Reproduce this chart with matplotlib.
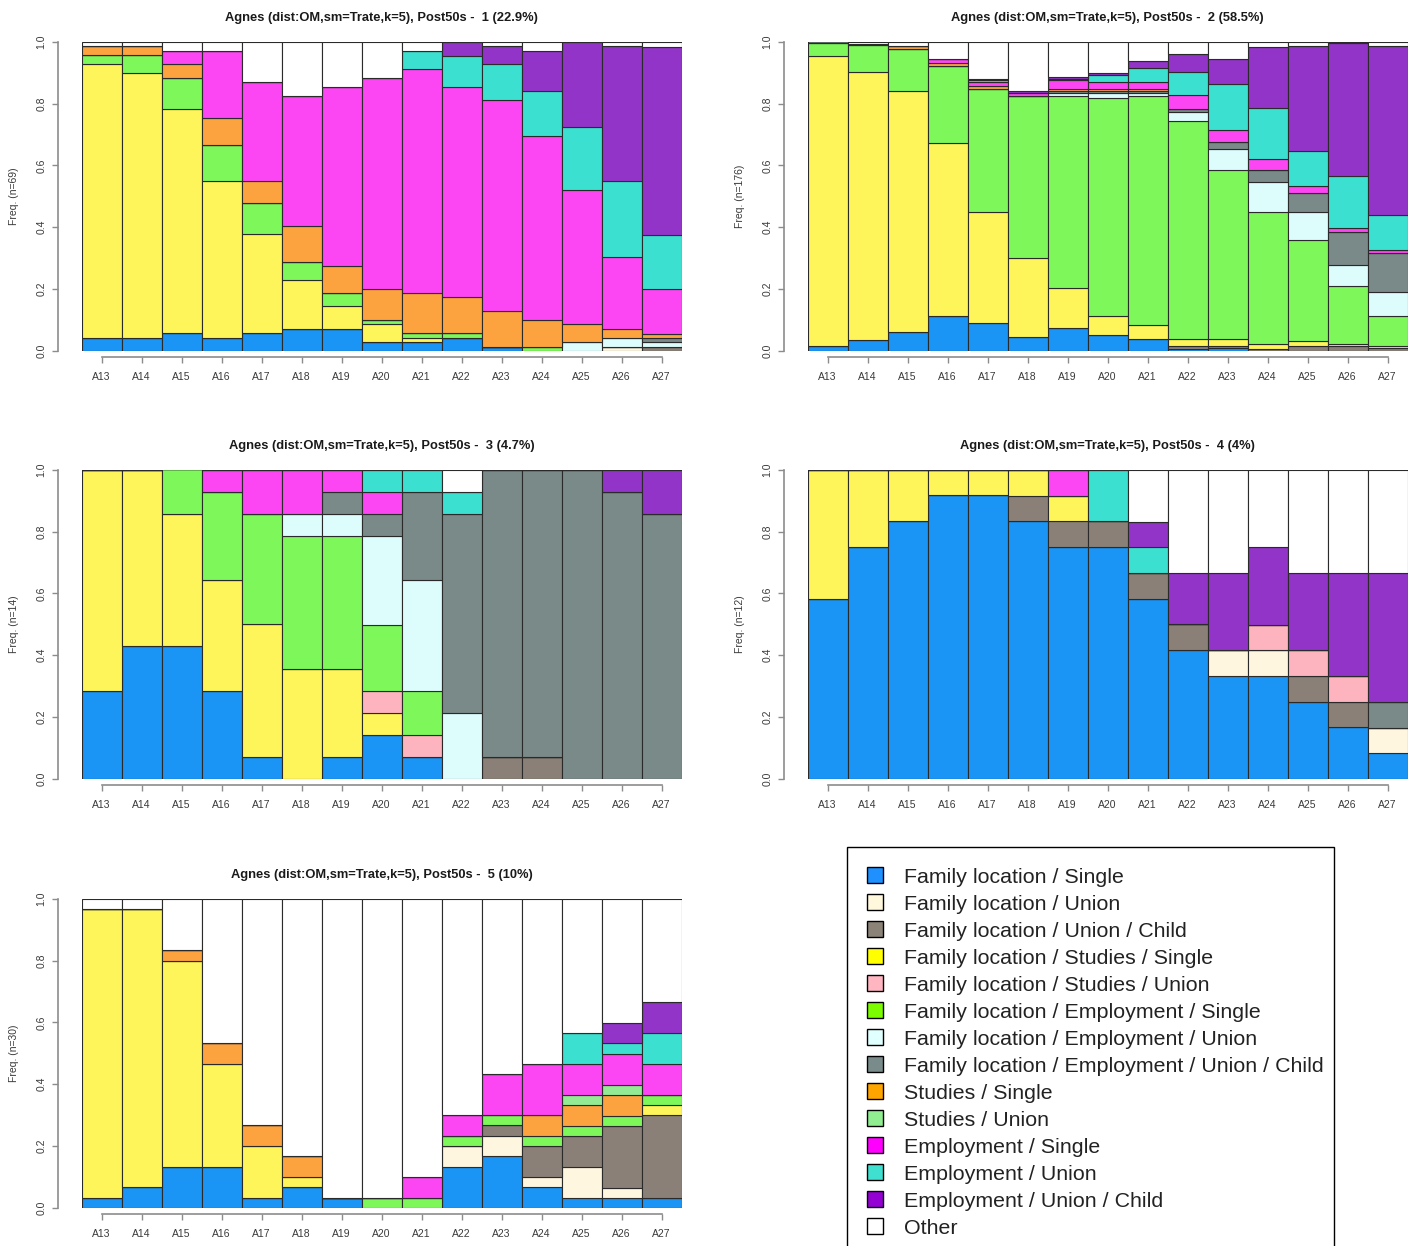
import matplotlib
matplotlib.use("Agg")
import matplotlib.pyplot as plt
from matplotlib.patches import Patch, Rectangle

ages = ["A13", "A14", "A15", "A16", "A17", "A18", "A19", "A20",
        "A21", "A22", "A23", "A24", "A25", "A26", "A27"]

states = ["FS", "FU", "FUC", "FSS", "FSU", "FES", "FEU", "FEUC",
          "SS", "SU", "ES", "EU", "EUC", "OT"]
state_labels = [
    "Family location / Single",
    "Family location / Union",
    "Family location / Union / Child",
    "Family location / Studies / Single",
    "Family location / Studies / Union",
    "Family location / Employment / Single",
    "Family location / Employment / Union",
    "Family location / Employment / Union / Child",
    "Studies / Single",
    "Studies / Union",
    "Employment / Single",
    "Employment / Union",
    "Employment / Union / Child",
    "Other",
]
# colours as they appear in the bars (slightly washed out) and in the legend
bar_colors = ["#1a94f5", "#fff6e0", "#8a8078", "#fdf55a", "#fdb4be", "#7ef75a",
              "#ddfdfd", "#7a8a88", "#fca23f", "#93ec93", "#fd46f3", "#3be0d0",
              "#9234c8", "#ffffff"]
legend_colors = ["#1E90FF", "#FFF8DC", "#8B8378", "#FFFF00", "#FFB6C1", "#7CFC00",
                 "#E0FFFF", "#7A8B8B", "#FFA500", "#90EE90", "#FF00FF", "#40E0D0",
                 "#9400D3", "#FFFFFF"]

titles = [
    "Agnes (dist:OM,sm=Trate,k=5), Post50s -  1 (22.9%)",
    "Agnes (dist:OM,sm=Trate,k=5), Post50s -  2 (58.5%)",
    "Agnes (dist:OM,sm=Trate,k=5), Post50s -  3 (4.7%)",
    "Agnes (dist:OM,sm=Trate,k=5), Post50s -  4 (4%)",
    "Agnes (dist:OM,sm=Trate,k=5), Post50s -  5 (10%)",
]
sizes = [69, 176, 14, 12, 30]

# state distributions per cluster (only states that appear)
cluster1 = {
    "FS":   [.043, .043, .058, .043, .058, .072, .072, .029, .029, .043, .014, 0, 0, 0, 0],
    "FU":   [0, 0, 0, 0, 0, 0, 0, 0, 0, 0, 0, 0, 0, .014, 0],
    "FUC":  [0, 0, 0, 0, 0, 0, 0, 0, 0, 0, 0, 0, 0, 0, .014],
    "FSS":  [.884, .855, .725, .507, .319, .159, .072, .058, .014, 0, 0, 0, 0, 0, 0],
    "FES":  [.029, .058, .101, .116, .101, .058, .043, .014, .014, .014, 0, .014, 0, 0, 0],
    "FEU":  [0, 0, 0, 0, 0, 0, 0, 0, 0, 0, 0, 0, .029, .029, .014],
    "FEUC": [0, 0, 0, 0, 0, 0, 0, 0, 0, 0, 0, 0, 0, 0, .014],
    "SS":   [.029, .029, .043, .087, .072, .116, .087, .101, .130, .116, .116, .087, .058, .029, .014],
    "ES":   [0, 0, .043, .217, .319, .420, .580, .681, .725, .681, .681, .594, .435, .232, .145],
    "EU":   [0, 0, 0, 0, 0, 0, 0, 0, .058, .101, .116, .145, .203, .246, .174],
    "EUC":  [0, 0, 0, 0, 0, 0, 0, 0, 0, .043, .058, .130, .275, .435, .609],
    "OT":   [.014, .014, .029, .029, .130, .174, .145, .116, .029, 0, .014, .029, 0, .014, .014],
}
cluster2 = {
    "FS":   [.017, .034, .062, .114, .091, .045, .074, .051, .040, .006, .011, 0, 0, 0, 0],
    "FUC":  [0, 0, 0, 0, 0, 0, 0, 0, 0, .011, .006, .006, .017, .017, .011],
    "FSS":  [.938, .869, .778, .557, .358, .256, .131, .063, .045, .023, .023, .017, .014, .006, .006],
    "FES":  [.040, .085, .136, .250, .398, .523, .619, .704, .739, .704, .545, .426, .328, .187, .096],
    "FEU":  [0, 0, 0, 0, 0, 0, .011, .017, .011, .028, .068, .097, .089, .068, .079],
    "FEUC": [.006, .006, 0, 0, 0, 0, .006, .006, .006, .011, .023, .040, .063, .108, .124],
    "SS":   [0, 0, .011, .011, .011, 0, .006, .006, .006, 0, 0, 0, 0, 0, 0],
    "ES":   [0, 0, 0, .011, .011, .011, .028, .023, .023, .045, .040, .034, .023, .011, .011],
    "EU":   [0, 0, 0, 0, .006, 0, .006, .023, .045, .074, .148, .165, .114, .170, .114],
    "EUC":  [0, 0, 0, 0, .006, .006, .006, .006, .023, .057, .080, .199, .339, .428, .545],
    "OT":   [0, .006, .011, .057, .119, .159, .113, .101, .062, .041, .056, .016, .013, .005, .014],
}
cluster3 = {
    "FS":   [.286, .429, .429, .286, .071, 0, .071, .143, .071, 0, 0, 0, 0, 0, 0],
    "FUC":  [0, 0, 0, 0, 0, 0, 0, 0, 0, 0, .071, .071, 0, 0, 0],
    "FSS":  [.714, .571, .429, .357, .429, .357, .286, .071, 0, 0, 0, 0, 0, 0, 0],
    "FSU":  [0, 0, 0, 0, 0, 0, 0, .071, .071, 0, 0, 0, 0, 0, 0],
    "FES":  [0, 0, .143, .286, .357, .429, .429, .214, .143, 0, 0, 0, 0, 0, 0],
    "FEU":  [0, 0, 0, 0, 0, .071, .071, .286, .357, .214, 0, 0, 0, 0, 0],
    "FEUC": [0, 0, 0, 0, 0, 0, .071, .071, .286, .643, .929, .929, 1.0, .929, .857],
    "ES":   [0, 0, 0, .071, .143, .143, .071, .071, 0, 0, 0, 0, 0, 0, 0],
    "EU":   [0, 0, 0, 0, 0, 0, 0, .071, .071, .071, 0, 0, 0, 0, 0],
    "EUC":  [0, 0, 0, 0, 0, 0, 0, 0, 0, 0, 0, 0, 0, .071, .143],
    "OT":   [0, 0, 0, 0, 0, 0, 0, 0, 0, .071, 0, 0, 0, 0, 0],
}
cluster4 = {
    "FS":   [.583, .750, .833, .917, .917, .833, .750, .750, .583, .417, .333, .333, .250, .167, .083],
    "FU":   [0, 0, 0, 0, 0, 0, 0, 0, 0, 0, .083, .083, 0, 0, .083],
    "FUC":  [0, 0, 0, 0, 0, .083, .083, .083, .083, .083, 0, 0, .083, .083, 0],
    "FSS":  [.417, .250, .167, .083, .083, .083, .083, 0, 0, 0, 0, 0, 0, 0, 0],
    "FSU":  [0, 0, 0, 0, 0, 0, 0, 0, 0, 0, 0, .083, .083, .083, 0],
    "FEUC": [0, 0, 0, 0, 0, 0, 0, 0, 0, 0, 0, 0, 0, 0, .083],
    "ES":   [0, 0, 0, 0, 0, 0, .083, 0, 0, 0, 0, 0, 0, 0, 0],
    "EU":   [0, 0, 0, 0, 0, 0, 0, .167, .083, 0, 0, 0, 0, 0, 0],
    "EUC":  [0, 0, 0, 0, 0, 0, 0, 0, .083, .167, .250, .250, .250, .333, .417],
    "OT":   [0, 0, 0, 0, 0, 0, 0, 0, .167, .333, .333, .250, .333, .333, .333],
}
cluster5 = {
    "FS":   [.033, .067, .133, .133, .033, .067, .033, 0, 0, .133, .167, .067, .033, .033, .033],
    "FU":   [0, 0, 0, 0, 0, 0, 0, 0, 0, .067, .067, .033, .100, .033, 0],
    "FUC":  [0, 0, 0, 0, 0, 0, 0, 0, 0, 0, .033, .100, .100, .200, .267],
    "FSS":  [.933, .900, .667, .333, .167, .033, 0, 0, 0, 0, 0, 0, 0, 0, .033],
    "FES":  [0, 0, 0, 0, 0, 0, 0, .033, .033, .033, .033, .033, .033, .033, .033],
    "SS":   [0, 0, .033, .067, .067, .067, 0, 0, 0, 0, 0, .067, .067, .067, 0],
    "SU":   [0, 0, 0, 0, 0, 0, 0, 0, 0, 0, 0, 0, .033, .033, 0],
    "ES":   [0, 0, 0, 0, 0, 0, 0, 0, .067, .067, .133, .167, .100, .100, .100],
    "EU":   [0, 0, 0, 0, 0, 0, 0, 0, 0, 0, 0, 0, .100, .033, .100],
    "EUC":  [0, 0, 0, 0, 0, 0, 0, 0, 0, 0, 0, 0, 0, .067, .100],
    "OT":   [.033, .033, .167, .467, .733, .833, .967, .967, .900, .700, .567, .533, .433, .400, .333],
}
clusters = [cluster1, cluster2, cluster3, cluster4, cluster5]

plt.rcParams["font.family"] = ["Liberation Sans", "DejaVu Sans"]
W, H = 1414, 1246
fig = plt.figure(figsize=(W / 100, H / 100), dpi=100)

# panel boxes in pixels (left, top, right, bottom)
cols = [(81.7, 681.7), (807.7, 1407.7)]
rows = [(41.7, 351.0), (469.7, 779.0), (898.7, 1208.0)]
boxes = [(cols[0], rows[0]), (cols[1], rows[0]), (cols[0], rows[1]),
         (cols[1], rows[1]), (cols[0], rows[2])]

axis_grey = "#8c8c8c"
text_grey = "#3a3a3a"
narrow = ["Liberation Sans Narrow", "Liberation Sans", "DejaVu Sans"]

for k, data in enumerate(clusters):
    (x0, x1), (y0, y1) = boxes[k]
    ax = fig.add_axes([x0 / W, 1 - y1 / H, (x1 - x0) / W, (y1 - y0) / H])
    x = list(range(len(ages)))
    bottom = [0.0] * len(ages)
    for s, col in zip(states, bar_colors):
        if s not in data:
            continue
        vals = data[s]
        ax.bar(x, vals, width=1.0, bottom=bottom, color=col,
               edgecolor="#2a2a2a", linewidth=0.8, zorder=2)
        bottom = [b + v for b, v in zip(bottom, vals)]

    ax.set_xlim(-0.5, len(ages) - 0.5)
    ax.set_ylim(0, 1)
    for side in ["top", "right"]:
        ax.spines[side].set_visible(False)
    ax.spines["left"].set_position(("outward", 17))
    ax.spines["bottom"].set_position(("outward", 4.5))
    ax.spines["bottom"].set_bounds(0, len(ages) - 1)
    for side in ["left", "bottom"]:
        ax.spines[side].set_color(axis_grey)
        ax.spines[side].set_linewidth(1.2)

    ax.set_xticks(x)
    ax.set_xticklabels(ages)
    ax.set_yticks([0, 0.2, 0.4, 0.6, 0.8, 1.0])
    ax.set_yticklabels(["0.0", "0.2", "0.4", "0.6", "0.8", "1.0"],
                       rotation=90, va="center")
    ax.tick_params(axis="both", colors=axis_grey, labelcolor=text_grey,
                   labelsize=7.5, length=4.3, width=1.0)
    ax.tick_params(axis="x", pad=6)
    ax.tick_params(axis="y", pad=4)

    ax.text(-0.113, 0.5, "Freq. (n=%d)" % sizes[k], rotation=90,
            ha="center", va="center", fontsize=7.5, color=text_grey,
            transform=ax.transAxes)
    ax.set_title(titles[k], fontsize=9.3, fontweight="bold", family=narrow,
                 color="#1a1a1a", pad=15)

# legend: frame drawn separately, it runs off the bottom edge like the original
fig.patches.append(Rectangle((847 / W, -0.05), (1334 - 847) / W, 0.05 + 1 - 847 / H,
                             transform=fig.transFigure, fill=False,
                             edgecolor="black", linewidth=1.0))
handles = [Patch(facecolor=c, edgecolor="black", linewidth=1.0) for c in legend_colors]
leg = fig.legend(handles, state_labels, loc="upper left",
                 bbox_to_anchor=(847 / W, 1 - 847 / H), frameon=False,
                 fontsize=15.4, handlelength=0.75,
                 handleheight=0.75, handletextpad=0.95, labelspacing=0.36,
                 borderpad=0.95, borderaxespad=0)
for t in leg.get_texts():
    t.set_color("#222222")

fig.savefig("out.png", dpi=100)
